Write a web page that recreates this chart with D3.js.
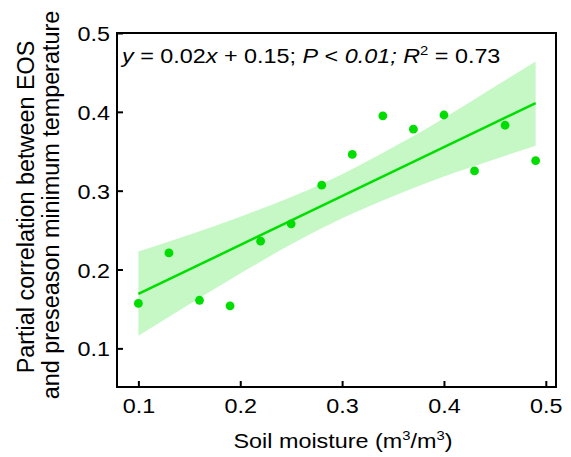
<!DOCTYPE html>
<html>
<head>
<meta charset="utf-8">
<script src="https://cdn.jsdelivr.net/npm/d3@7"></script>
<style>
	body { margin: 0; background: white; }
	text { font-family: "Liberation Sans", Arial, sans-serif; fill: black; }
</style>
</head>
<body>
<div id="chart"></div>
<script>
/****************************** data *****************************************/
var soilMoisture = [0.10, 0.13, 0.16, 0.19, 0.22, 0.25, 0.28, 0.31, 0.34, 0.37, 0.40, 0.43, 0.46, 0.49];
var partialCorr  = [0.157, 0.221, 0.161, 0.154, 0.236, 0.258, 0.307, 0.346, 0.395, 0.378, 0.396, 0.325, 0.383, 0.338];

var fitX = [0.10, 0.49];
var fitY = [0.169, 0.411];

var bandX     = [0.10, 0.15, 0.20, 0.25, 0.30, 0.35, 0.40, 0.45, 0.49];
var bandUpper = [0.223, 0.244, 0.267, 0.292, 0.321, 0.355, 0.392, 0.432, 0.464];
var bandLower = [0.116, 0.156, 0.195, 0.232, 0.265, 0.293, 0.318, 0.340, 0.357];

var xTicks = [0.1, 0.2, 0.3, 0.4, 0.5];
var yTicks = [0.1, 0.2, 0.3, 0.4, 0.5];

/****************************** draw ******************************************/
var width = 571,
	height = 457;

var green = "#00dd00",
	bandColor = "#c6f8c6",
	fontSize = 20.5,
	stretch = 1.14;   // glyphs in the figure are wider than plain Arial

var svg = d3.select("#chart").append("svg")
	.attr("width", width)
	.attr("height", height)
	.style("background-color", "white");

var x = d3.scaleLinear().domain([0.079, 0.51]).range([117, 556]);
var y = d3.scaleLinear().domain([0.051, 0.5]).range([387, 33]);

// confidence band
var band = d3.area()
	.x(function(d) { return x(d[0]); })
	.y0(function(d) { return y(d[2]); })
	.y1(function(d) { return y(d[1]); })
	.curve(d3.curveMonotoneX);

svg.append("path")
	.datum(bandX.map(function(v, i) { return [v, bandUpper[i], bandLower[i]]; }))
	.attr("d", band)
	.style("fill", bandColor)
	.style("stroke", "none");

// fitted line
svg.append("line")
	.attr("x1", x(fitX[0])).attr("y1", y(fitY[0]))
	.attr("x2", x(fitX[1])).attr("y2", y(fitY[1]))
	.style("stroke", green)
	.style("stroke-width", 2.5);

// points
svg.selectAll(".dot")
	.data(soilMoisture.map(function(v, i) { return [v, partialCorr[i]]; }))
	.enter().append("circle")
	.attr("class", "dot")
	.attr("cx", function(d) { return x(d[0]); })
	.attr("cy", function(d) { return y(d[1]); })
	.attr("r", 4.4)
	.style("fill", green);

// axes, ticks pointing inside
var fmt = d3.format(".1f");

var xAxis = svg.append("g")
	.attr("transform", "translate(0," + y.range()[0] + ")")
	.call(d3.axisBottom(x).tickValues(xTicks).tickSize(-6).tickFormat(fmt));

var yAxis = svg.append("g")
	.attr("transform", "translate(" + x.range()[0] + ",0)")
	.call(d3.axisLeft(y).tickValues(yTicks).tickSize(-6).tickFormat(fmt));

[xAxis, yAxis].forEach(function(a) {
	a.select(".domain").remove();
	a.selectAll(".tick line").style("stroke", "black").style("stroke-width", 2);
	a.selectAll(".tick text")
		.attr("x", null).attr("y", null).attr("dy", null)
		.style("font-size", fontSize + "px")
		.style("font-family", "'Liberation Sans', Arial, sans-serif");
});

xAxis.selectAll(".tick text")
	.attr("text-anchor", "middle")
	.attr("transform", "translate(0,26) scale(" + stretch + ",1)");

yAxis.selectAll(".tick text")
	.attr("text-anchor", "end")
	.attr("transform", "translate(-7,7.5) scale(" + stretch + ",1)");

// frame
svg.append("rect")
	.attr("x", x.range()[0])
	.attr("y", y.range()[1])
	.attr("width", x.range()[1] - x.range()[0])
	.attr("height", y.range()[0] - y.range()[1])
	.style("fill", "none")
	.style("stroke", "black")
	.style("stroke-width", 2);

/****************************** labels ****************************************/
function label(px, py, rot, anchor, sy) {
	return svg.append("text")
		.attr("text-anchor", anchor)
		.attr("transform", "translate(" + px + "," + py + ")" + (rot ? " rotate(" + rot + ")" : "") + " scale(" + stretch + "," + (sy || 1) + ")")
		.style("font-size", fontSize + "px");
}

// x label
var xl = label(343, 448, 0, "middle");
xl.append("tspan").text("Soil moisture (m");
xl.append("tspan").attr("dy", -8).style("font-size", "13px").text("3");
xl.append("tspan").attr("dy", 8).text("/m");
xl.append("tspan").attr("dy", -8).style("font-size", "13px").text("3");
xl.append("tspan").attr("dy", 8).text(")");

// y label, two lines (glyphs look taller than the horizontal text)
label(34, 207, -90, "middle", 1.15).text("Partial correlation between EOS");
label(59, 205, -90, "middle", 1.15).text("and preseason minimum temperature");

// equation
var eq = label(122, 63, 0, "start");
var parts = [
	["y", true], [" = 0.02", false], ["x", true], [" + 0.15; ", false],
	["P", true], [" < ", false], ["0.01;", true], [" ", false], ["R", true]
];
parts.forEach(function(p) {
	eq.append("tspan").style("font-style", p[1] ? "italic" : "normal").text(p[0]);
});
eq.append("tspan").attr("dy", -8).style("font-size", "13px").text("2");
eq.append("tspan").attr("dy", 8).text(" = 0.73");
</script>
</body>
</html>
